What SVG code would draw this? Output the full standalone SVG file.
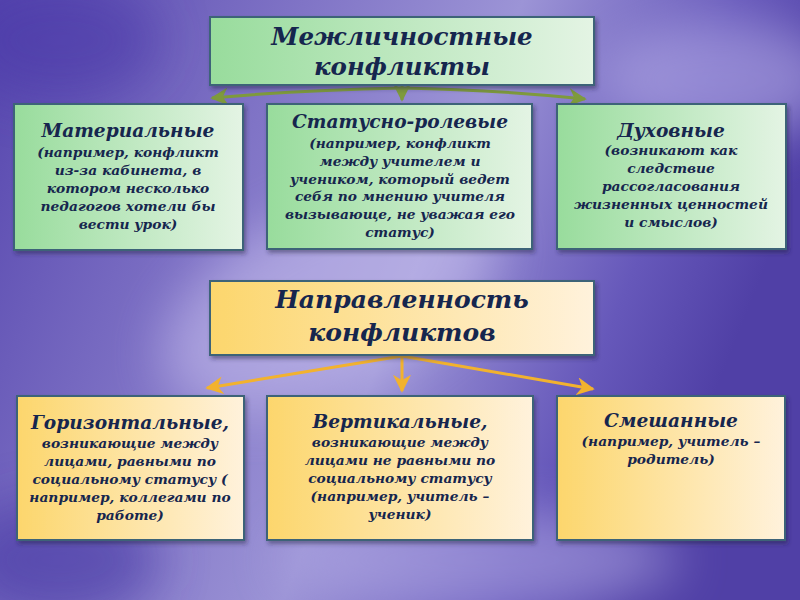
<svg xmlns="http://www.w3.org/2000/svg" width="800" height="600" viewBox="0 0 800 600">
<defs>
<linearGradient id="bg" x1="0" y1="0" x2="1" y2="0.3">
<stop offset="0" stop-color="#5646ae"/>
<stop offset="0.35" stop-color="#8074c6"/>
<stop offset="0.6" stop-color="#9c94d6"/>
<stop offset="0.85" stop-color="#6658ba"/>
<stop offset="1" stop-color="#5040a6"/>
</linearGradient>
<linearGradient id="gG" x1="0" y1="0" x2="1" y2="0">
<stop offset="0" stop-color="#98dc9c"/>
<stop offset="1" stop-color="#e4f4e4"/>
</linearGradient>
<linearGradient id="gY" x1="0" y1="0" x2="1" y2="0">
<stop offset="0" stop-color="#fcd66c"/>
<stop offset="1" stop-color="#fff2dc"/>
</linearGradient>
<filter id="blur" x="-50%" y="-50%" width="200%" height="200%"><feGaussianBlur stdDeviation="25"/></filter>
<filter id="sh" x="-10%" y="-10%" width="130%" height="130%"><feDropShadow dx="2" dy="3" stdDeviation="2" flood-color="#202040" flood-opacity="0.45"/></filter>
<marker id="mG" viewBox="0 0 10 10" refX="9" refY="5" markerWidth="6" markerHeight="6" orient="auto-start-reverse" markerUnits="strokeWidth"><path d="M0,0 L10,5 L0,10 L3,5 z" fill="#7e9a3c"/></marker>
<marker id="mY" viewBox="0 0 10 10" refX="9" refY="5" markerWidth="6" markerHeight="6" orient="auto-start-reverse" markerUnits="strokeWidth"><path d="M0,0 L10,5 L0,10 L3,5 z" fill="#f2b22e"/></marker>
<style>
.box{stroke:#3d6478;stroke-width:2;filter:url(#sh)}
.g{fill:url(#gG)}
.y{fill:url(#gY)}
text{font-family:"DejaVu Serif","Liberation Serif",serif;font-weight:bold;font-style:italic;fill:#16264e;text-anchor:middle}
.t{font-size:24.5px}
.t2{font-size:25px}
.h{font-size:18.6px}
.b{font-size:13.8px}
.cg{stroke:#7e9a3c;stroke-width:3;fill:none}
.cy{stroke:#f2b22e;stroke-width:3;fill:none}
</style>
</defs>
<rect width="800" height="600" fill="url(#bg)"/>
<g filter="url(#blur)" opacity="0.55">
<ellipse cx="330" cy="300" rx="180" ry="90" fill="#c8c0ee" transform="rotate(-25 330 300)"/>
<ellipse cx="720" cy="80" rx="120" ry="60" fill="#b8b0e8"/>
<ellipse cx="480" cy="560" rx="200" ry="50" fill="#b0a8e4"/>
<ellipse cx="60" cy="560" rx="100" ry="60" fill="#4030a0"/>
<ellipse cx="60" cy="40" rx="100" ry="60" fill="#4838a8"/>
</g>

<g id="connectors">
<path class="cg" d="M402,88 Q300,90 212,98" marker-end="url(#mG)"/>
<path class="cg" d="M402,88 Q500,90 585,99" marker-end="url(#mG)"/>
<path class="cg" d="M402,86 L402,100" marker-end="url(#mG)"/>
<path class="cy" d="M402,356 L207,388" marker-end="url(#mY)"/>
<path class="cy" d="M402,356 L402,391" marker-end="url(#mY)"/>
<path class="cy" d="M402,356 L593,389" marker-end="url(#mY)"/>
</g>

<g id="interpersonal">
<rect class="box g" x="210" y="17" width="384" height="68"/>
<text class="t" x="402" y="45">Межличностные</text>
<text class="t" x="402" y="75">конфликты</text>
</g>

<g id="material">
<rect class="box g" x="14" y="104" width="229" height="146"/>
<text class="h" x="128" y="137">Материальные</text>
<text class="b" x="128" y="157">(например, конфликт</text>
<text class="b" x="128" y="175">из-за кабинета, в</text>
<text class="b" x="128" y="193">котором несколько</text>
<text class="b" x="128" y="211">педагогов хотели бы</text>
<text class="b" x="128" y="229">вести урок)</text>
</g>

<g id="status">
<rect class="box g" x="267" y="104" width="265" height="145"/>
<text class="h" x="400" y="128">Статусно-ролевые</text>
<text class="b" x="400" y="148">(например, конфликт</text>
<text class="b" x="400" y="166">между учителем и</text>
<text class="b" x="400" y="184">учеником, который ведет</text>
<text class="b" x="400" y="201">себя по мнению учителя</text>
<text class="b" x="400" y="219">вызывающе, не уважая его</text>
<text class="b" x="400" y="237">статус)</text>
</g>

<g id="spiritual">
<rect class="box g" x="557" y="104" width="229" height="145"/>
<text class="h" x="671" y="137">Духовные</text>
<text class="b" x="671" y="155">(возникают как</text>
<text class="b" x="671" y="173">следствие</text>
<text class="b" x="671" y="191">рассогласования</text>
<text class="b" x="671" y="209">жизненных ценностей</text>
<text class="b" x="671" y="227">и смыслов)</text>
</g>

<g id="direction">
<rect class="box y" x="210" y="281" width="384" height="74"/>
<text class="t2" x="402" y="308">Направленность</text>
<text class="t2" x="402" y="341">конфликтов</text>
</g>

<g id="horizontal">
<rect class="box y" x="17" y="396" width="227" height="144"/>
<text class="h" x="130" y="429">Горизонтальные,</text>
<text class="b" x="130" y="448">возникающие между</text>
<text class="b" x="130" y="466">лицами, равными по</text>
<text class="b" x="130" y="484">социальному статусу (</text>
<text class="b" x="130" y="502">например, коллегами по</text>
<text class="b" x="130" y="520">работе)</text>
</g>

<g id="vertical">
<rect class="box y" x="267" y="396" width="266" height="144"/>
<text class="h" x="400" y="428">Вертикальные,</text>
<text class="b" x="400" y="447">возникающие между</text>
<text class="b" x="400" y="465">лицами не равными по</text>
<text class="b" x="400" y="483">социальному статусу</text>
<text class="b" x="400" y="501">(например, учитель –</text>
<text class="b" x="400" y="519">ученик)</text>
</g>

<g id="mixed">
<rect class="box y" x="557" y="396" width="228" height="144"/>
<text class="h" x="671" y="427">Смешанные</text>
<text class="b" x="671" y="446">(например, учитель –</text>
<text class="b" x="671" y="464">родитель)</text>
</g>
</svg>
